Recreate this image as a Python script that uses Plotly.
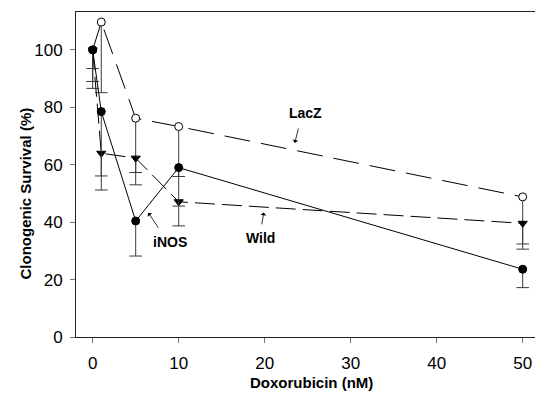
import plotly.graph_objects as go

dose = [0, 1, 5, 10, 50]

lacz = [100, 109.7, 76.2, 73.3, 48.8]
lacz_err = [13.4, 24.6, 23.2, 17.4, 18.2]

inos = [100, 78.5, 40.4, 59.0, 23.6]
inos_err = [6.5, 27.3, 12.2, 20.3, 6.4]

wild = [100, 64.0, 62.3, 47.1, 39.6]
wild_err = [11.0, 7.9, 5.0, 1.5, 7.2]

y_ticks = [0, 20, 40, 60, 80, 100]
x_ticks = [0, 10, 20, 30, 40, 50]

FONT = "Arial, Liberation Sans, sans-serif"
BAR = "#3a3a3a"

fig = go.Figure()


def add_series(y, err, dash, symbol, fill):
    fig.add_trace(go.Scatter(
        x=dose, y=y, mode="lines+markers",
        line=dict(color="black", width=1, dash=dash),
        marker=dict(symbol=symbol, size=8, color=fill,
                    line=dict(color="black", width=1)),
        error_y=dict(type="data", symmetric=False,
                     array=[0] * len(y), arrayminus=err,
                     width=0, thickness=1, color=BAR),
        showlegend=False, hoverinfo="skip"))
    # caps at the lower end of each error bar
    fig.add_trace(go.Scatter(
        x=dose, y=[v - e for v, e in zip(y, err)], mode="markers",
        marker=dict(symbol="line-ew", size=9,
                    line=dict(color=BAR, width=1)),
        showlegend=False, hoverinfo="skip"))


add_series(lacz, lacz_err, "26px,11px", "circle", "white")
add_series(wild, wild_err, "20px,7px", "triangle-down", "black")
add_series(inos, inos_err, "solid", "circle", "black")

ann = []
labels = [
    ("LacZ", 24.7, 78.0, 23.5, 67.6, 4, -16),
    ("Wild", 19.5, 34.4, 19.9, 43.4, -2.3, 13.4),
    ("iNOS", 9.0, 33.2, 6.47, 43.3, 11, 16.6),
]
for txt, tx, ty, hx, hy, ax, ay in labels:
    ann.append(dict(x=tx, y=ty, xref="x", yref="y", text="<b>%s</b>" % txt,
                    xanchor="center", yanchor="middle",
                    showarrow=False, font=dict(family=FONT, size=14, color="black")))
    ann.append(dict(x=hx, y=hy, xref="x", yref="y", text="", showarrow=True,
                    ax=ax, ay=ay, arrowhead=1, arrowsize=1.2, arrowwidth=0.8,
                    arrowcolor="black", standoff=0, startstandoff=0))

ann.append(dict(x=-0.109, y=0.4415, xref="paper", yref="paper",
                xanchor="center", yanchor="middle",
                text="<b>Clonogenic Survival (%)</b>", textangle=-90, showarrow=False,
                font=dict(family=FONT, size=15, color="black")))
ann.append(dict(x=0.513, y=-0.1415, xref="paper", yref="paper",
                xanchor="center", yanchor="middle",
                text="<b>Doxorubicin (nM)</b>", showarrow=False,
                font=dict(family=FONT, size=15, color="black")))

fig.update_layout(
    width=535, height=397,
    margin=dict(l=76, r=0, t=12, b=60),
    paper_bgcolor="white", plot_bgcolor="white",
    annotations=ann,
    xaxis=dict(range=[-1.94, 51.43], tickvals=x_ticks, ticks="outside", ticklen=5,
               tickcolor="#777", showline=True, linecolor="#222", linewidth=1,
               mirror=True, showgrid=False, zeroline=False, ticklabelstandoff=6,
               tickfont=dict(family=FONT, size=17, color="black")),
    yaxis=dict(range=[0, 113.2], tickvals=y_ticks, ticks="outside", ticklen=5,
               tickcolor="#777", showline=True, linecolor="#222", linewidth=1,
               showgrid=False, zeroline=False, ticklabelstandoff=4,
               tickfont=dict(family=FONT, size=17, color="black")),
)

fig.write_html("out.html")
